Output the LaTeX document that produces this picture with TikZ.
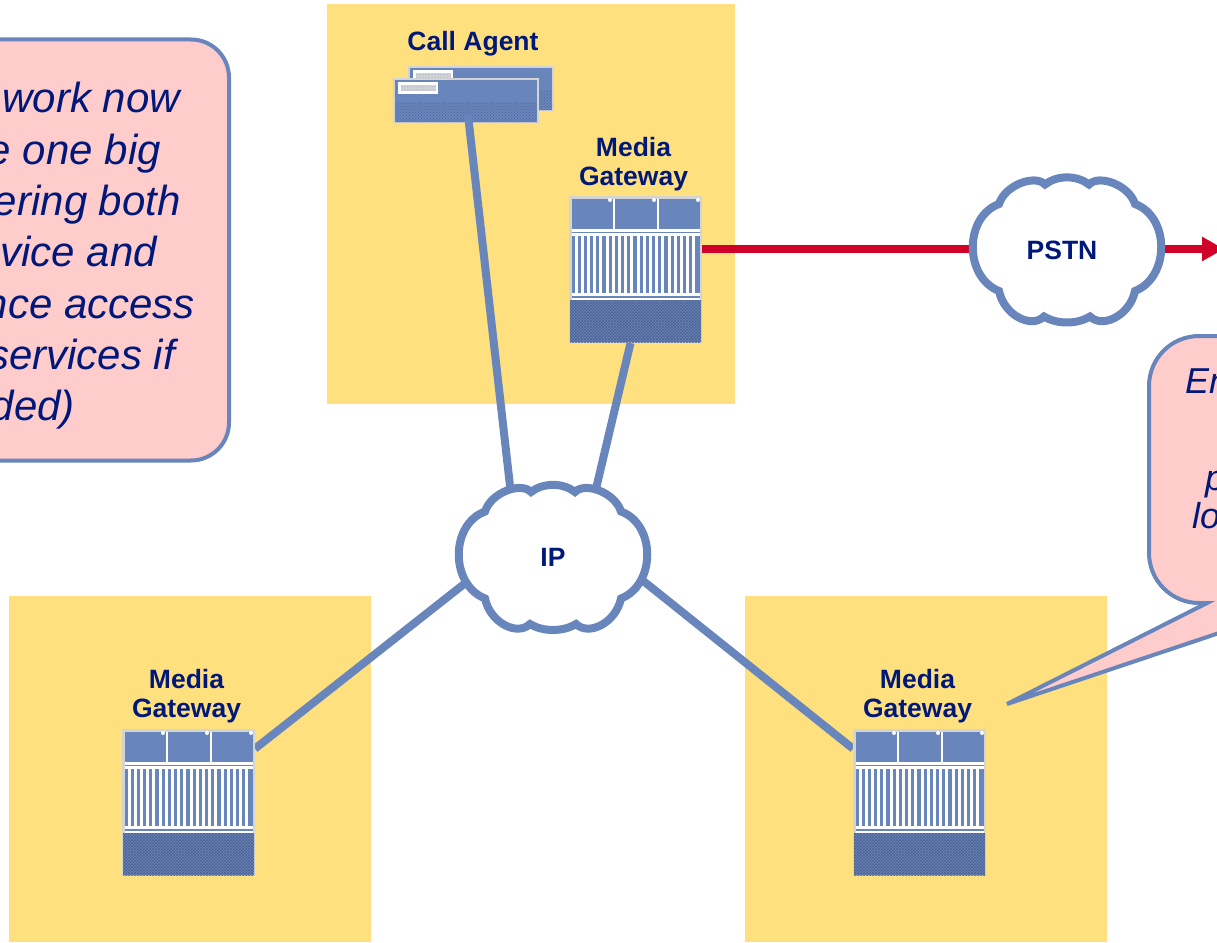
\documentclass[tikz,border=0pt]{standalone}
\usepackage{fontspec}
\setmainfont{Liberation Sans}
\usetikzlibrary{shapes.geometric, arrows.meta, positioning, patterns}

\definecolor{zoneyellow}{HTML}{FEE07F}
\definecolor{iconblue}{HTML}{6885BC}
\definecolor{darktext}{HTML}{00187A}
\definecolor{notepink}{HTML}{FFCCCC}
\definecolor{linkred}{HTML}{D00028}
\definecolor{framegrey}{HTML}{D4D4D4}
\definecolor{hatchdark}{HTML}{4E6290}

\tikzset{
    gatewayicon/.pic={
        \fill[framegrey] (0,0) rectangle (133,147);
        \fill[iconblue] (2.5,2.5) rectangle (130.5,104);
        \fill[white] (43.5,2.5) rectangle (46,34);
        \fill[white] (87.5,2.5) rectangle (90,34);
        \fill[white] (2.5,33) rectangle (130.5,35.5);
        \fill[white] (2.5,37) rectangle (130.5,40);
        \foreach \i in {0,...,19} {
            \fill[white] ({5.5+6.2*\i},39) rectangle ++(3,59);
        }
        \fill[white] (2.5,97) rectangle (130.5,100);
        \fill[white] (2.5,101.5) rectangle (130.5,104);
        \path[preaction={fill=iconblue}, pattern=crosshatch, pattern color=hatchdark] (1,104) rectangle (132,146);
        \foreach \i in {41,85,129} {
            \fill[white] (\i,4) circle (2);
        }
    },
    agentcard/.pic={
        \fill[framegrey] (0,0) rectangle (146,45);
        \fill[iconblue] (2,2) rectangle (144,24);
        \path[preaction={fill=iconblue}, pattern=crosshatch dots, pattern color=hatchdark] (2,24) rectangle (144,44);
        \fill[white] (5,4) rectangle (45,16);
        \path[preaction={fill=framegrey}, pattern=dots, pattern color=iconblue] (8,7) rectangle (43,13);
    },
    cloudshape/.pic={
        \draw[fill=white, draw=iconblue, line width=8pt]
            (-68,-45) .. controls (-62,-64) and (-32,-75) .. (-22,-64.5)
            .. controls (-10,-74) and (10,-74) .. (22,-64.5)
            .. controls (32,-75) and (62,-64) .. (68,-45)
            .. controls (103,-32) and (103,28) .. (68,42)
            .. controls (63,66) and (36,80) .. (23,67.5)
            .. controls (10,75.5) and (-10,75.5) .. (-23,67.5)
            .. controls (-36,80) and (-63,66) .. (-68,42)
            .. controls (-103,28) and (-103,-32) .. (-68,-45) -- cycle;
    }
}

\begin{document}
\begin{tikzpicture}[
            x=1pt, y=-1pt,
            zone/.style={rectangle, fill=zoneyellow, anchor=north west, inner sep=0pt, outer sep=0pt},
            gateway/.style={rectangle, anchor=north west, minimum width=133pt, minimum height=147pt, inner sep=0pt, outer sep=0pt},
            cloudnode/.style={ellipse, minimum width=190pt, minimum height=146pt, inner sep=0pt, outer sep=0pt},
            devlabel/.style={align=center, inner sep=0pt, text=darktext, font=\fontsize{26.5}{29}\selectfont\bfseries},
            notebox/.style={rectangle, draw=iconblue, fill=notepink, line width=4pt, rounded corners=38pt, anchor=north west, inner sep=0pt, outer sep=0pt},
            notetext/.style={inner sep=0pt, anchor=base east, text=darktext, font=\fontsize{42}{50}\selectfont\itshape},
            smallnote/.style={inner sep=0pt, anchor=base west, text=darktext, font=\fontsize{36}{44}\selectfont\itshape},
            link/.style={draw=iconblue, line width=8pt},
            redlink/.style={draw=linkred, line width=8pt}
        ]
            \useasboundingbox (0,0) rectangle (1217,942);

            % yellow sites
            \node[zone, minimum width=408pt, minimum height=400pt] (sitetop) at (327,4) {};
            \node[zone, minimum width=362pt, minimum height=346pt] (siteleft) at (9,596) {};
            \node[zone, minimum width=362pt, minimum height=346pt] (siteright) at (745,596) {};

            % devices
            \node[gateway] (gwtop) at (569,196) {};
            \node[gateway] (gwleft) at (122,729) {};
            \node[gateway] (gwright) at (853,729) {};
            \node[gateway, minimum width=146pt, minimum height=45pt] (agent) at (393,78) {};
            \pic at (408,66) {agentcard};
            \pic at (agent.north west) {agentcard};

            % clouds
            \node[cloudnode] (ip) at (553,556.5) {};
            \node[cloudnode] (pstn) at (1067,249) {};
            \coordinate (exit) at (1224,249);

            % links
            \draw[link] ([xshift=2pt,yshift=8pt]agent.south) -- (ip.123);
            \draw[link] ([xshift=-5pt]gwtop.south) -- (ip.57);
            \draw[link] (gwleft.39) -- (ip.197);
            \draw[link] (gwright.141) -- (ip.-15);
            \draw[redlink] (gwtop.east |- pstn.west) -- (pstn.west);
            \draw[redlink, -{Triangle[length=22pt,width=23pt]}] (pstn.east) -- (exit);

            \pic at (gwtop.north west) {gatewayicon};
            \pic at (gwleft.north west) {gatewayicon};
            \pic at (gwright.north west) {gatewayicon};
            \pic at (ip) {cloudshape};
            \pic at (pstn) {cloudshape};

            % labels
            \node[devlabel] (iplabel) at (553,557) {IP};
            \node[devlabel] (pstnlabel) at (1062,250) {PSTN};
            \node[devlabel, above=22pt of agent, xshift=7pt] (agentlabel) {Call Agent};
            \node[devlabel, above=5pt of gwtop, xshift=-2pt] (gwtoplabel) {Media\\Gateway};
            \node[devlabel, above=6pt of gwleft, xshift=-2pt] (gwleftlabel) {Media\\Gateway};
            \node[devlabel, above=6pt of gwright, xshift=-2pt] (gwrightlabel) {Media\\Gateway};

            % left note
            \node[notebox, minimum width=279pt, minimum height=421pt] (noteleft) at (-50,39.5) {};
            \node[notetext] (linea) at (180,112) {work now};
            \node[notetext] (lineb) at (161,164) {e one big};
            \node[notetext] (linec) at (181,215) {ering both};
            \node[notetext] (lined) at (157,266) {vice and};
            \node[notetext] (linee) at (195,318) {nce access};
            \node[notetext] (linef) at (175,369) {services if};
            \node[notetext] (lineg) at (75,420) {ded)};

            % right note with its tail
            \draw[draw=iconblue, fill=notepink, line width=4pt, rounded corners=50pt] (1320,336) -- (1149,336) -- (1149,603) [sharp corners] -- (1207,603) -- (1007,704) -- (1240,626) -- (1320,603) -- cycle;
            \node[smallnote] (linep) at (1185,393) {En};
            \node[smallnote] (lineq) at (1205,490) {p};
            \node[smallnote] (liner) at (1192,528) {lo};
        \end{tikzpicture}
\end{document}
